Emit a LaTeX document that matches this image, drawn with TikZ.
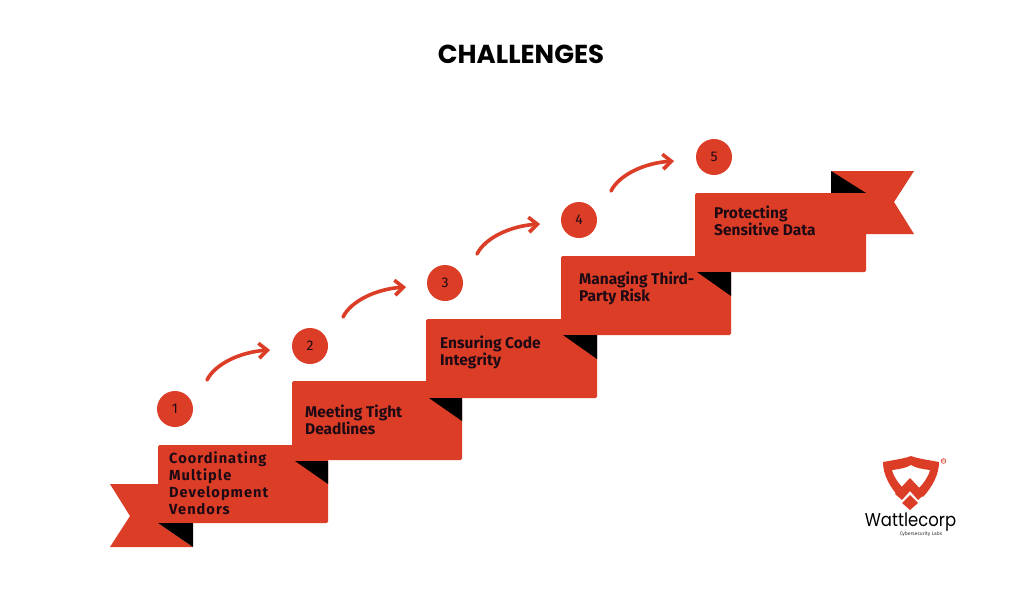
\documentclass[tikz,border=0pt]{standalone}
\usepackage{fontspec}
\setmainfont{Fira Sans}
\newfontfamily\titlefont{Poppins}
\usetikzlibrary{arrows.meta}
\definecolor{rib}{HTML}{DB3D26}
\definecolor{ink}{HTML}{1E0A14}
\tikzset{
  x=1pt,y=-1pt,
  panel/.style={fill=rib,rounded corners=1.5pt},
  fold/.style={fill=black},
  badge/.style={circle,fill=rib,minimum size=36pt,inner sep=0pt,text=ink,font=\fontsize{14}{14}\selectfont},
  label/.style={anchor=north west,align=left,text=ink,inner sep=0pt,font=\bfseries\fontsize{15.5}{17}\selectfont},
  hop/.style={draw=rib,line width=3.6pt,line cap=round,-{Straight Barb[length=8.5pt,width=15pt,line width=3.6pt]}},
}
\begin{document}
\begin{tikzpicture}
\useasboundingbox (0,0) rectangle (1024,597);
\fill[white] (0,0) rectangle (1024,597);
\node[font=\titlefont\bfseries\fontsize{26}{26}\selectfont,text=black] (title) at (521,54) {CHALLENGES};
% ribbon ends
\fill[rib] (110,484) -- (160,484) -- (160,523) -- (158,523) -- (193,547) -- (110,547) -- (130,516) -- cycle;
\fill[rib] (831,171) -- (914,171) -- (894,202) -- (914,234) -- (860,234) -- (860,193) -- cycle;
\fill[fold] (831,171) -- (866,193) -- (831,193) -- cycle;
% panels
\fill[panel] (695,193) rectangle (866,272);
\fill[panel] (561,256) rectangle (731,335);
\fill[fold] (697,272) -- (731,272) -- (731,296) -- cycle;
\fill[panel] (426,319) rectangle (597,398);
\fill[fold] (563,335) -- (597,335) -- (597,359) -- cycle;
\fill[panel] (292,381) rectangle (462,460);
\fill[fold] (429,398) -- (462,398) -- (462,421) -- cycle;
\fill[panel] (158,445) rectangle (328,523);
\fill[fold] (295,461) -- (328,461) -- (328,484) -- cycle;
\fill[fold] (158,523) -- (193,523) -- (193,547) -- cycle;
% labels
\node[label,font=\bfseries\fontsize{14.6}{17}\selectfont] (t1) at (169,451.5) {\addfontfeatures{LetterSpace=7}Coordinating\\\addfontfeatures{LetterSpace=7}Multiple\\\addfontfeatures{LetterSpace=7}Development\\\addfontfeatures{LetterSpace=7}Vendors};
\node[label] (t2) at (305,405) {Meeting Tight\\Deadlines};
\node[label] (t3) at (440,336) {Ensuring Code\\Integrity};
\node[label] (t4) at (579,271.5) {Managing Third-\\Party Risk};
\node[label] (t5) at (714,205.5) {Protecting\\Sensitive Data};
% badges
\node[badge] (b1) at (175,409) {1};
\node[badge] (b2) at (310,346) {2};
\node[badge] (b3) at (445,283) {3};
\node[badge] (b4) at (579,220) {4};
\node[badge] (b5) at (714,157) {5};
% hops
\coordinate (s1) at (207,380); \coordinate (e1) at (270,350);
\coordinate (s2) at (343,317); \coordinate (e2) at (406,287);
\coordinate (s3) at (477,254); \coordinate (e3) at (540,224);
\coordinate (s4) at (611,191); \coordinate (e4) at (674,161);
\draw[hop] (s1) .. controls (215,364) and (240,352) .. (e1);
\draw[hop] (s2) .. controls (351,301) and (376,289) .. (e2);
\draw[hop] (s3) .. controls (485,238) and (510,226) .. (e3);
\draw[hop] (s4) .. controls (619,175) and (644,163) .. (e4);
% logo
\fill[rib] (883,462) .. controls (900,459) and (906,458) .. (911,456) .. controls (916,458) and (922,459) .. (939,462)
  .. controls (939,475) and (932,487) .. (923,497) -- (917,490) .. controls (923,484) and (928,478) .. (930,470)
  .. controls (922,469) and (916,468) .. (911,465) .. controls (906,468) and (900,469) .. (892,470)
  .. controls (894,478) and (899,484) .. (905,490) -- (899,497) .. controls (890,487) and (883,475) .. (883,462) -- cycle;
\fill[rib] (910,478) -- (925,494) -- (918,500) -- (910,491) -- (902,500) -- (895,494) -- cycle;
\fill[rib] (910,495) -- (918,503) -- (910,510) -- (902,503) -- cycle;
\node[circle,draw=rib,line width=.6pt,inner sep=.4pt,text=rib,font=\fontsize{4}{4}\selectfont] (reg) at (943.5,461) {R};
\node[font=\titlefont\fontsize{18.5}{18.5}\selectfont,text=black,inner sep=0pt,xscale=.89] (brand) at (910.5,522.5) {Wattlecorp};
\node[font=\fontsize{5}{5}\selectfont,text=black!80,inner sep=0pt] (sub) at (921,534.5) {Cybersecurity Labs};
\end{tikzpicture}
\end{document}
